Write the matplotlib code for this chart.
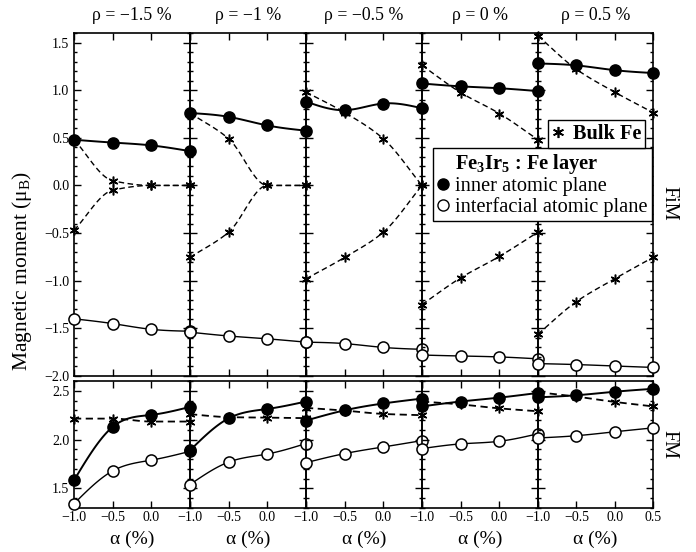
import numpy as np
import matplotlib
matplotlib.use('Agg')
import matplotlib.pyplot as plt
from matplotlib.lines import Line2D
from matplotlib.ticker import MultipleLocator, NullLocator, FuncFormatter

plt.rcParams['font.family'] = ['Liberation Serif', 'DejaVu Serif']
plt.rcParams['mathtext.fontset'] = 'custom'
plt.rcParams['mathtext.rm'] = 'Liberation Serif'
plt.rcParams['mathtext.bf'] = 'Liberation Serif:bold'
plt.rcParams['mathtext.it'] = 'Liberation Serif:italic'

# data
alpha = [-1.0, -0.5, 0.0, 0.5]
rho_labels = ['\u22121.5', '\u22121', '\u22120.5', '0', '0.5']

# FiM (top row), one list per rho panel
fim_inner = [[0.48, 0.45, 0.42, 0.36], [0.76, 0.72, 0.63, 0.575], [0.88, 0.79, 0.86, 0.81],
             [1.07, 1.04, 1.02, 0.99], [1.28, 1.26, 1.21, 1.18]]
fim_inter = [[-1.40, -1.45, -1.51, -1.53], [-1.54, -1.58, -1.61, -1.645], [-1.645, -1.66, -1.70, -1.72],
             [-1.78, -1.79, -1.80, -1.82], [-1.87, -1.88, -1.895, -1.91]]
fim_bulk_up = [[0.48, 0.05, 0.0, 0.0], [0.76, 0.49, 0.0, 0.0], [0.98, 0.765, 0.49, 0.0],
               [1.26, 0.975, 0.755, 0.48], [1.57, 1.22, 0.98, 0.765]]
fim_bulk_dn = [[-0.47, -0.05, 0.0, 0.0], [-0.755, -0.49, 0.0, 0.0], [-0.98, -0.755, -0.49, 0.0],
               [-1.25, -0.97, -0.745, -0.49], [-1.56, -1.22, -0.98, -0.755]]

# FM (bottom row)
fm_inner = [[1.583, 2.13, 2.253, 2.335], [1.89, 2.218, 2.314, 2.39], [2.195, 2.30, 2.37, 2.42],
            [2.34, 2.39, 2.43, 2.478], [2.433, 2.454, 2.49, 2.52]]
fm_inter = [[1.344, 1.68, 1.79, 1.88], [1.54, 1.77, 1.853, 1.96], [1.764, 1.857, 1.925, 1.99],
            [1.908, 1.956, 1.983, 2.06], [2.017, 2.04, 2.08, 2.12]]
fm_bulk = [[2.215, 2.215, 2.185, 2.185], [2.26, 2.23, 2.225, 2.22], [2.325, 2.297, 2.263, 2.25],
           [2.39, 2.36, 2.32, 2.29], [2.485, 2.44, 2.386, 2.34]]


def spline(x, y, n=80):
    # natural cubic spline, only used to draw the smooth connecting curves
    x = np.asarray(x, float); y = np.asarray(y, float)
    k = len(x); h = np.diff(x)
    A = np.zeros((k, k)); r = np.zeros(k)
    A[0, 0] = A[-1, -1] = 1
    for i in range(1, k - 1):
        A[i, i - 1] = h[i - 1]; A[i, i] = 2 * (h[i - 1] + h[i]); A[i, i + 1] = h[i]
        r[i] = 6 * ((y[i + 1] - y[i]) / h[i] - (y[i] - y[i - 1]) / h[i - 1])
    m = np.linalg.solve(A, r)
    xs = np.linspace(x[0], x[-1], n)
    j = np.clip(np.searchsorted(x, xs) - 1, 0, k - 2)
    hj = h[j]; x0 = x[j]; x1 = x[j + 1]
    ys = (m[j] * (x1 - xs) ** 3 / (6 * hj) + m[j + 1] * (xs - x0) ** 3 / (6 * hj)
          + (y[j] / hj - m[j] * hj / 6) * (x1 - xs) + (y[j + 1] / hj - m[j + 1] * hj / 6) * (xs - x0))
    return xs, ys


def pchip(x, y, n=80):
    # monotone cubic (no overshoot on the flat zero parts)
    x = np.asarray(x, float); y = np.asarray(y, float)
    h = np.diff(x); d = np.diff(y) / h
    m = np.zeros_like(y)
    m[0], m[-1] = d[0], d[-1]
    for i in range(1, len(x) - 1):
        if d[i - 1] * d[i] > 0:
            w1 = 2 * h[i] + h[i - 1]; w2 = h[i] + 2 * h[i - 1]
            m[i] = (w1 + w2) / (w1 / d[i - 1] + w2 / d[i])
    xs = np.linspace(x[0], x[-1], n)
    j = np.clip(np.searchsorted(x, xs) - 1, 0, len(x) - 2)
    t = (xs - x[j]) / h[j]
    h00 = 2 * t ** 3 - 3 * t ** 2 + 1; h10 = t ** 3 - 2 * t ** 2 + t
    h01 = -2 * t ** 3 + 3 * t ** 2; h11 = t ** 3 - t ** 2
    ys = h00 * y[j] + h10 * h[j] * m[j] + h01 * y[j + 1] + h11 * h[j] * m[j + 1]
    return xs, ys


STAR = (6, 2, 0)
W, H = 696, 552
edges = [74, 190, 306, 422, 538, 653]
fig = plt.figure(figsize=(W / 100, H / 100), dpi=100)


def px_axes(x0, x1, ytop, ybot):
    ax = fig.add_axes([x0 / W, 1 - ybot / H, (x1 - x0) / W, (ybot - ytop) / H])
    ax.patch.set_visible(False)
    return ax


def style(ax, ylim, first, last, bottom):
    ax.set_xlim(-1.0, 0.5); ax.set_ylim(*ylim)
    ax.xaxis.set_major_locator(MultipleLocator(0.5)); ax.xaxis.set_minor_locator(NullLocator())
    ax.yaxis.set_major_locator(MultipleLocator(0.5)); ax.yaxis.set_minor_locator(MultipleLocator(0.1))
    ax.tick_params(which='both', direction='in', top=True, right=True, width=1, labelsize=10, colors='black')
    ax.tick_params(which='major', length=5)
    ax.tick_params(which='minor', length=2.5)
    ax.tick_params(axis='x', pad=2.5)
    for s in ax.spines.values():
        s.set_linewidth(1.2)
    fmt = FuncFormatter(lambda v, p: ('%.1f' % v).replace('-', '\u2212'))
    ax.yaxis.set_major_formatter(fmt); ax.xaxis.set_major_formatter(fmt)
    if not first:
        ax.tick_params(labelleft=False)
    if not bottom:
        ax.tick_params(labelbottom=False)
    elif not last:
        ax.set_xticks([-1.0, -0.5, 0.0, 0.5])
        ax.set_xticklabels(['\u22121.0', '\u22120.5', '0.0', ''])


def curve(ax, y, marker, mfc, ls, lw, ms, z=3, smooth=spline):
    xs, ys = smooth(alpha, y)
    ax.plot(xs, ys, ls=ls, color='black', lw=lw, clip_on=False, zorder=z,
            dashes=(4, 2.5) if ls == '--' else (None, None))
    ax.plot(alpha, y, ls='none', marker=marker, mfc=mfc, mec='black', ms=ms, mew=1.1, clip_on=False, zorder=z + 1)


for i in range(5):
    top = px_axes(edges[i], edges[i + 1], 33, 376)
    bot = px_axes(edges[i], edges[i + 1], 381, 508)
    style(top, (-2.0, 1.6), i == 0, i == 4, False)
    style(bot, (1.3, 2.6), i == 0, i == 4, True)

    curve(top, fim_bulk_up[i], STAR, 'black', '--', 1.0, 7, z=2, smooth=pchip)
    curve(top, fim_bulk_dn[i], STAR, 'black', '--', 1.0, 7, z=2, smooth=pchip)
    curve(top, fim_inner[i], 'o', 'black', '-', 1.4, 8, z=4)
    curve(top, fim_inter[i], 'o', 'white', '-', 1.0, 8, z=4)

    curve(bot, fm_bulk[i], STAR, 'black', '--', 1.3, 7, z=2, smooth=pchip)
    curve(bot, fm_inner[i], 'o', 'black', '-', 1.4, 8, z=4)
    curve(bot, fm_inter[i], 'o', 'white', '-', 1.0, 8, z=4)

    cx = (edges[i] + edges[i + 1]) / 2 / W
    fig.text(cx, 1 - 15 / H, '\u03c1 = %s %%' % rho_labels[i], ha='center', va='center', fontsize=12.8)
    fig.text(cx, 1 - 539 / H, '\u03b1 (%)', ha='center', va='center', fontsize=14)

fig.text(22 / W, 1 - 271 / H, 'Magnetic moment (\u03bc$_\\mathrm{B}$)', rotation=90, ha='center', va='center', fontsize=15.5)
fig.text(669 / W, 1 - 203 / H, 'FiM', rotation=-90, ha='center', va='center', fontsize=14.5)
fig.text(669 / W, 1 - 444 / H, 'FM', rotation=-90, ha='center', va='center', fontsize=14.5)

handles = [Line2D([], [], ls='none'),
           Line2D([], [], ls='none', marker='o', mfc='black', mec='black', ms=8),
           Line2D([], [], ls='none', marker='o', mfc='white', mec='black', ms=8)]
labels = ['Fe$_\\mathbf{3}$Ir$_\\mathbf{5}$ : Fe layer', 'inner atomic plane', 'interfacial atomic plane']
leg = fig.legend(handles, labels, loc='upper right', bbox_to_anchor=(652 / W, 1 - 148 / H), fontsize=14.7,
                 frameon=True, fancybox=False, framealpha=1, edgecolor='black', borderaxespad=0,
                 handlelength=0.55, handletextpad=0.35, borderpad=0.2, labelspacing=0.05)
leg.get_frame().set_linewidth(1.0)
leg.get_texts()[0].set_fontweight('bold')
leg.set_zorder(20)

leg2 = fig.legend([Line2D([], [], ls='none', marker=STAR, color='black', ms=8, mew=1.2)], ['Bulk Fe'],
                  loc='upper right', bbox_to_anchor=(645 / W, 1 - 120 / H),
                  frameon=True, fancybox=False, framealpha=1, edgecolor='black', borderaxespad=0,
                  handlelength=0.6, handletextpad=0.4, borderpad=0.2, prop={'weight': 'bold', 'size': 14.6})
leg2.get_frame().set_linewidth(1.0)
leg2.set_zorder(20)

fig.savefig('out.png', dpi=100)
